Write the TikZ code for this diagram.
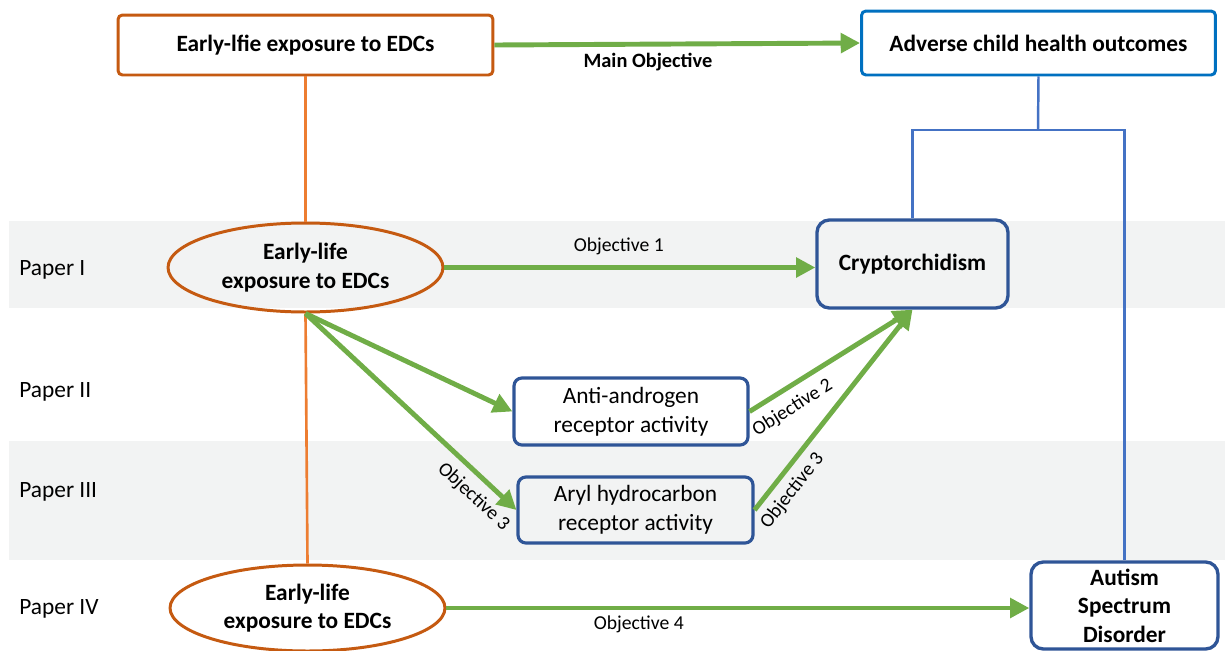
\documentclass[tikz,border=0pt]{standalone}
\usepackage{fontspec}
\setmainfont{Carlito}
\usetikzlibrary{arrows.meta,shapes.geometric}

\definecolor{band}{HTML}{F2F3F3}
\definecolor{edcorange}{HTML}{C55A11}
\definecolor{linkorange}{HTML}{ED7D31}
\definecolor{objgreen}{HTML}{70AD47}
\definecolor{topblue}{HTML}{0070C0}
\definecolor{linkblue}{HTML}{4472C4}
\definecolor{boxblue}{HTML}{2F5597}

\tikzset{
  maintext/.style={font=\fontsize{13.3}{16.3}\selectfont},
  boldtext/.style={font=\fontsize{13.3}{16.3}\selectfont\bfseries},
  objlabel/.style={font=\fontsize{11.2}{13}\selectfont, inner sep=2pt},
  topbox/.style={draw, line width=1.7pt, fill=white, inner sep=0pt, rounded corners=2.5pt, boldtext},
  edcellipse/.style={ellipse, draw=edcorange, line width=1.7pt, inner sep=0pt, align=center, boldtext},
  outcomebox/.style={draw=boxblue, line width=1.9pt, rounded corners=7pt, inner sep=0pt, align=center},
  mediatorbox/.style={draw=boxblue, line width=1.8pt, rounded corners=4.5pt, inner sep=0pt, align=center, maintext},
  papertext/.style={anchor=west, inner sep=0pt, maintext},
  objarrow/.style={draw=objgreen, line width=2.8pt, -{Triangle[length=11pt,width=11pt]}},
  orangelink/.style={draw=linkorange, line width=1.5pt},
  bluelink/.style={draw=linkblue, line width=1.4pt}
}

\begin{document}
\begin{tikzpicture}[x=0.02cm, y=-0.02cm]
  \useasboundingbox (0,0) rectangle (1225,650);

  % shaded rows for Paper I and Paper III
  \fill[band] (9,221) rectangle (1225,308);
  \fill[band] (9,441) rectangle (1225,560);

  % row labels
  \node[papertext] (p1) at (19,270) {Paper I};
  \node[papertext] (p2) at (19,392) {Paper II};
  \node[papertext] (p3) at (19,492) {Paper III};
  \node[papertext] (p4) at (19,609) {Paper IV};

  % overall framework
  \node[topbox, draw=edcorange, minimum width=7.5cm, minimum height=1.2cm] (exp) at (305.5,45) {Early-lfie exposure to EDCs};
  \node[topbox, draw=topblue, minimum width=7.08cm, minimum height=1.28cm] (out) at (1038.5,43) {Adverse child health outcomes};

  % exposures per paper
  \node[edcellipse, minimum width=5.5cm, minimum height=1.78cm] (e1) at (305.5,267.5) {Early-life\\exposure to EDCs};
  \node[edcellipse, minimum width=5.5cm, minimum height=1.72cm] (e2) at (307.5,608) {Early-life\\exposure to EDCs};

  % outcomes
  \node[outcomebox, boldtext, fill=band, minimum width=3.82cm, minimum height=1.76cm] (crypt) at (912.5,264) {Cryptorchidism};
  \node[outcomebox, boldtext, fill=white, minimum width=3.74cm, minimum height=1.74cm] (asd) at (1124.5,605.5) {Autism\\Spectrum\\Disorder};

  % mediating receptor activities
  \node[mediatorbox, minimum width=4.68cm, minimum height=1.34cm] (anti) at (631,411.5) {Anti-androgen\\receptor activity};
  \node[mediatorbox, minimum width=4.7cm, minimum height=1.32cm] (aryl) at (635.5,510) {Aryl hydrocarbon\\receptor activity};

  % orange trunk joining the exposure nodes
  \draw[orangelink] (exp.south) -- (e1.north);
  \draw[orangelink] (e1.south) -- (e2.north);

  % blue tree joining the outcomes
  \coordinate (bus) at (1038,130);
  \draw[bluelink] (out.south) -- (bus);
  \draw[bluelink] (crypt.north) |- (bus) -| (asd.north);

  % objectives
  \draw[objarrow] (exp.east) -- (out.west)
    node[objlabel, pos=0.42, below=2pt, font=\fontsize{11.6}{13}\selectfont\bfseries] {Main Objective};
  \draw[objarrow] (e1.east) -- (e1.east -| crypt.west)
    node[objlabel, pos=0.47, above=4pt] {Objective 1};
  \draw[objarrow] (e1.south) -- (anti.west);
  \draw[objarrow] (e1.south) -- (aryl.west)
    node[objlabel, pos=0.86, sloped, below=3pt] {Objective 3};
  \draw[objarrow] (anti.east) -- (crypt.south)
    node[objlabel, pos=0.2, sloped, below=3pt] {Objective 2};
  \draw[objarrow] (aryl.east) -- (crypt.south)
    node[objlabel, pos=0.15, sloped, below=2pt] {Objective 3};
  \draw[objarrow] (e2.east) -- (e2.east -| asd.west)
    node[objlabel, pos=0.33, below=1pt] {Objective 4};
\end{tikzpicture}
\end{document}
